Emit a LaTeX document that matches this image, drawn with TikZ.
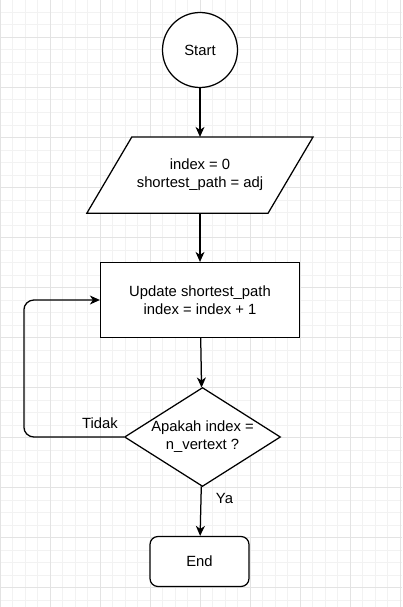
\documentclass[tikz,border=0pt]{standalone}
\usepackage{fontspec}
\setmainfont{Liberation Sans}
\usetikzlibrary{shapes,arrows.meta,positioning,backgrounds}

\begin{document}
\begin{tikzpicture}[x=1pt,y=-1pt,>={Stealth[length=10pt,width=9pt,inset=3pt]},
                    node distance=48.75pt,line width=1.25pt,
                    font=\fontsize{14.8}{18}\selectfont]
  \tikzstyle{gridfine}=[draw=gray!10,line width=1pt]
  \tikzstyle{gridbold}=[draw=gray!22,line width=1pt]
  \tikzstyle{block}=[draw,fill=white,align=center,inner sep=0pt]
  \tikzstyle{term}=[block,circle,minimum size=75pt]
  \tikzstyle{io}=[align=center,inner sep=0pt,minimum width=180pt,minimum height=75pt]
  \tikzstyle{proc}=[block,rectangle,minimum width=199pt,minimum height=75pt]
  \tikzstyle{decide}=[block,diamond,aspect=1.58,minimum width=156pt,minimum height=99pt]
  \tikzstyle{stopbox}=[block,rectangle,rounded corners=8pt,minimum width=99pt,minimum height=50pt]

  % background grid
  \useasboundingbox (0,0) rectangle (402,607);
  \begin{scope}[on background layer]
    \fill[white] (0,0) rectangle (402,607);
    \foreach \g in {0,12.5,...,400} \draw[gridfine] (\g,0) -- (\g,607);
    \foreach \g in {0,12.5,...,600} \draw[gridfine] (0,\g) -- (402,\g);
    \foreach \g in {0,50,...,400} \draw[gridbold] (\g,0) -- (\g,607);
    \foreach \g in {37.5,87.5,...,587.5} \draw[gridbold] (0,\g) -- (402,\g);
  \end{scope}

  \node[term]    (Start)  at (200,50)                    {Start};
  \node[io]      (Init)   [below=of Start]               {index = 0\\shortest\_path = adj};
  \node[proc]    (Update) [below=of Init]                {Update shortest\_path\\index = index + 1};
  \node[decide]  (Check)  [below=of Update,xshift=2.5pt] {Apakah index =\\n\_vertext ?};
  \node[stopbox] (End)    [below=of Check,xshift=-3pt]   {End};

  % slanted input box behind its text
  \begin{scope}[on background layer]
    \draw[line width=1.25pt,fill=white] ([xshift=22.5pt]Init.north west)
      -- ([xshift=22.5pt]Init.north east) -- ([xshift=-22.5pt]Init.south east)
      -- ([xshift=-22.5pt]Init.south west) -- cycle;
  \end{scope}

  \path[->] (Start)  edge (Init)
            (Init)   edge (Update)
            (Update) edge (Check)
            (Check)  edge node[pos=0.25,right=11pt] {Ya} (End);
  % loop back
  \draw[->,rounded corners=10pt] (Check.west) -- node[pos=0.24,above=4pt] {Tidak}
        ++(-100pt,0) |- (Update.west);
\end{tikzpicture}
\end{document}
